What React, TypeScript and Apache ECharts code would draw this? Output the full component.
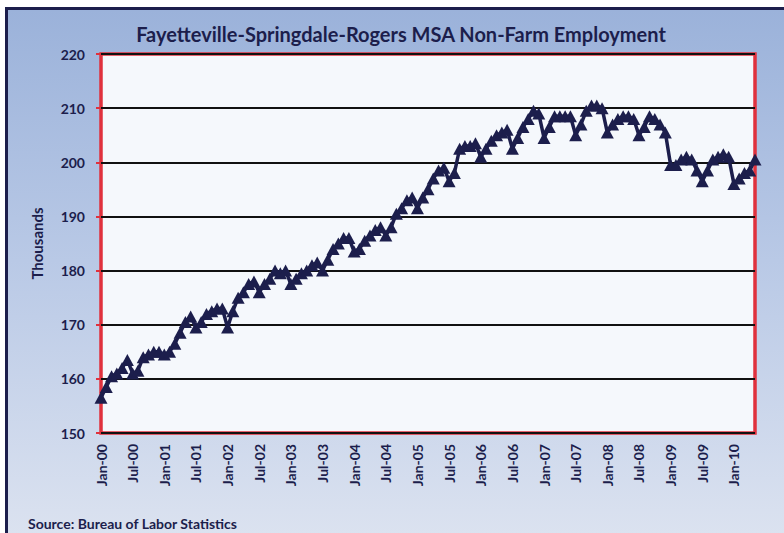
import React, { useEffect, useRef } from "react";
import * as echarts from "echarts";

const monthNames = ["Jan", "Feb", "Mar", "Apr", "May", "Jun", "Jul", "Aug", "Sep", "Oct", "Nov", "Dec"];
const yearLabels = ["00", "01", "02", "03", "04", "05", "06", "07", "08", "09", "10"];

const v2000 = [156.5, 158.5, 160.5, 161, 162, 163.5, 161, 161.5, 164, 164.5, 165, 165];
const v2001 = [164.5, 165, 166.5, 168.5, 170.5, 171.5, 169.5, 170.5, 172, 172.5, 173, 173];
const v2002 = [169.5, 172.5, 175, 176, 177.5, 178, 176, 177.5, 178.5, 180, 179.5, 180];
const v2003 = [177.5, 178.5, 179.5, 180, 181, 181.5, 180, 182, 184, 185, 186, 186];
const v2004 = [183.5, 184, 185.5, 186.5, 187.5, 188, 186.5, 188, 190.5, 191.5, 193, 193.5];
const v2005 = [191.5, 193.5, 195, 197, 198.5, 199, 196.5, 198, 202.5, 203, 203, 203.5];
const v2006 = [201, 202.5, 204, 205, 205.5, 206, 202.5, 204.5, 206.5, 208, 209.5, 209];
const v2007 = [204.5, 206.5, 208.5, 208.5, 208.5, 208.5, 205, 207, 209.5, 210.5, 210.5, 210];
const v2008 = [205.5, 207, 208, 208.5, 208.5, 208, 205, 206.5, 208.5, 208, 207, 205.5];
const v2009 = [199.5, 199.5, 200.5, 201, 200.5, 198.5, 196.5, 198.5, 200.5, 201, 201.5, 201];
const v2010 = [196, 197, 198, 198.5, 200.5];

const yearValues = [v2000, v2001, v2002, v2003, v2004, v2005, v2006, v2007, v2008, v2009, v2010];

const categories: string[] = [];
const values: number[] = [];
yearValues.forEach((arr, yi) => {
  arr.forEach((v, mi) => {
    categories.push(monthNames[mi] + "-" + yearLabels[yi]);
    values.push(v);
  });
});

const NAVY = "#1c1e4c";
const RED = "#e0313d";
const FONT = "Lato, 'Noto Sans', sans-serif";

export default function App() {
  const ref = useRef<HTMLDivElement>(null);
  useEffect(() => {
    document.body.style.margin = "0";
    const chart = echarts.init(ref.current!, null, { renderer: "svg" });
    chart.setOption({
      animation: false,
      backgroundColor: "transparent",
      title: {
        text: "Fayetteville-Springdale-Rogers MSA Non-Farm Employment",
        left: 396,
        textAlign: "center",
        top: 19,
        textStyle: { color: NAVY, fontFamily: FONT, fontWeight: "bold", fontSize: 20 },
      },
      graphic: [
        {
          type: "text",
          left: 28,
          top: 516,
          style: {
            text: "Source: Bureau of Labor Statistics",
            fill: NAVY,
            font: "bold 14px " + FONT,
          },
        },
      ],
      grid: {
        left: 101,
        right: 29,
        top: 54,
        bottom: 100,
        show: true,
        backgroundColor: "#f5f8fc",
        borderColor: RED,
        borderWidth: 3.5,
      },
      xAxis: {
        type: "category",
        data: categories,
        boundaryGap: false,
        axisLine: { show: false },
        axisTick: { show: false },
        axisLabel: {
          interval: 5,
          rotate: 90,
          margin: 11,
          color: NAVY,
          fontFamily: FONT,
          fontWeight: "bold",
          fontSize: 14,
        },
        splitLine: { show: false },
      },
      yAxis: {
        type: "value",
        min: 150,
        max: 220,
        interval: 10,
        name: "Thousands",
        nameLocation: "middle",
        nameGap: 57,
        nameTextStyle: { color: NAVY, fontFamily: FONT, fontWeight: "bold", fontSize: 15 },
        axisLine: { show: false },
        axisTick: { show: true, length: 5, lineStyle: { color: RED, width: 2 } },
        axisLabel: {
          margin: 16,
          color: NAVY,
          fontFamily: FONT,
          fontWeight: "bold",
          fontSize: 14,
        },
        splitLine: { show: true, lineStyle: { color: "#111111", width: 1.8 } },
      },
      series: [
        {
          type: "line",
          data: values,
          symbol: "triangle",
          symbolSize: [13, 12],
          showAllSymbol: true,
          itemStyle: { color: NAVY },
          lineStyle: { color: NAVY, width: 3.5 },
        },
      ],
    });
    return () => chart.dispose();
  }, []);
  return (
    <div
      style={{
        position: "fixed",
        left: 0,
        top: 0,
        width: 784,
        height: 533,
        background: "#ffffff",
        overflow: "hidden",
      }}
    >
      <div
        style={{
          position: "absolute",
          left: 5,
          top: 7,
          width: 800,
          height: 560,
          boxSizing: "border-box",
          borderLeft: "3px solid " + NAVY,
          borderTop: "3px solid " + NAVY,
          background: "linear-gradient(to bottom, #9bb2da 0%, #b9c9e6 45%, #dfe5f1 100%)",
        }}
      />
      <div ref={ref} style={{ position: "absolute", left: 0, top: 0, width: 784, height: 533 }} />
    </div>
  );
}
